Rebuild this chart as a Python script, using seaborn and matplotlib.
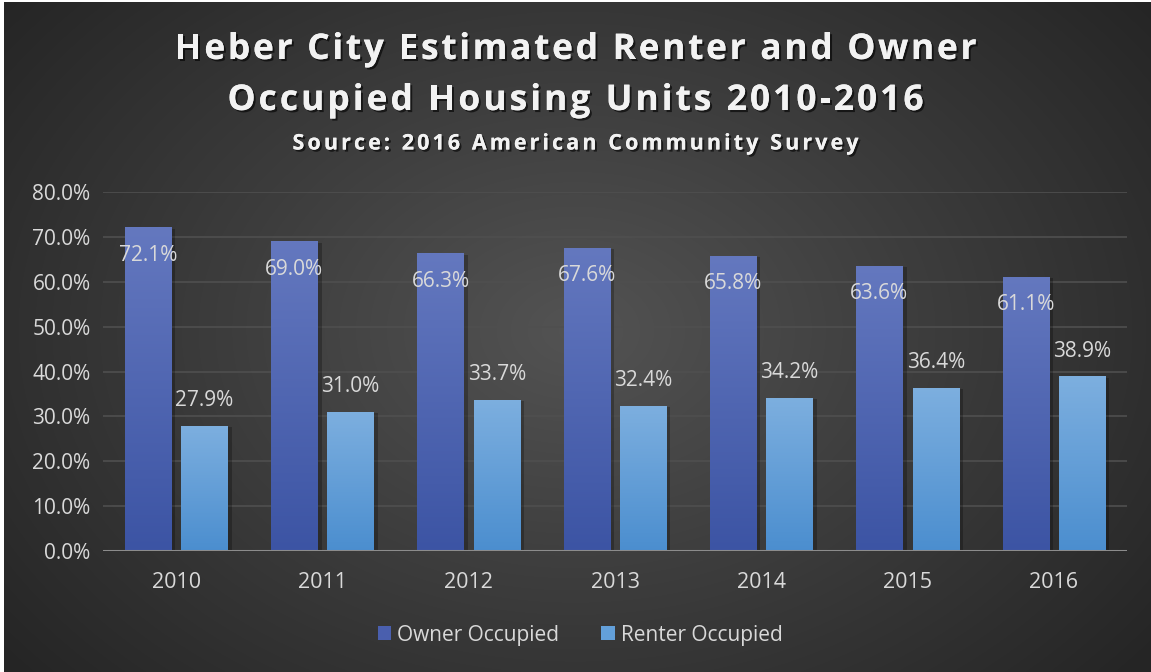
import numpy as np
import pandas as pd
import matplotlib
matplotlib.use("Agg")
import matplotlib.pyplot as plt
import matplotlib.patheffects as pe
from matplotlib.colors import LinearSegmentedColormap
from matplotlib.patches import Rectangle
import seaborn as sns

years = ["2010", "2011", "2012", "2013", "2014", "2015", "2016"]
owner = [72.1, 69.0, 66.3, 67.6, 65.8, 63.6, 61.1]
renter = [27.9, 31.0, 33.7, 32.4, 34.2, 36.4, 38.9]
series = ["Owner Occupied", "Renter Occupied"]
yticks = [0, 10, 20, 30, 40, 50, 60, 70, 80]

title_lines = ["Heber City Estimated Renter and Owner",
               "Occupied Housing Units 2010-2016"]
subtitle_text = "Source: 2016 American Community Survey"

df = pd.DataFrame({
    "year": years * 2,
    "pct": [v / 100 for v in owner + renter],
    "series": [series[0]] * len(years) + [series[1]] * len(years),
})

sns.set_theme(style="dark")
plt.rcParams["font.family"] = ["Open Sans", "DejaVu Sans"]

TXT = "#d9d9d9"
W, H = 1151, 672
base_cols = {series[0]: "#4a5fae", series[1]: "#63a0da"}
grad_cols = {
    series[0]: ("#3c54a4", "#6478bf"),   # bottom, top
    series[1]: ("#4b8ecf", "#7dafdf"),
}

fig = plt.figure(figsize=(W / 100, H / 100), dpi=100)

# radial background
bg = fig.add_axes([0, 0, 1, 1], zorder=-10)
yy, xx = np.mgrid[0:H, 0:W]
r = np.sqrt(((xx - 575) / 720.0) ** 2 + ((yy - 330) / 520.0) ** 2)
bgcmap = LinearSegmentedColormap.from_list("bg", ["#535353", "#3c3c3c", "#262626"])
bg.imshow(np.clip(r, 0, 1), cmap=bgcmap, vmin=0, vmax=1, aspect="auto",
          extent=[0, 1, 0, 1], origin="upper")
bg.set_axis_off()
fig.patches.append(Rectangle((0, 0), 4 / W, 1, transform=fig.transFigure,
                             facecolor="white", edgecolor="none", zorder=-5))
fig.patches.append(Rectangle((0, 1 - 2 / H), 1, 2 / H, transform=fig.transFigure,
                             facecolor="white", edgecolor="none", zorder=-5))

ax = fig.add_axes([103 / W, 1 - 551 / H, 1024 / W, 359 / H])
ax.patch.set_alpha(0)

sns.barplot(data=df, x="year", y="pct", hue="series", order=years,
            hue_order=series, palette=base_cols, width=0.77, gap=0.18,
            saturation=1, ax=ax, legend=True, errorbar=None)

ax.set_yticks([t / 100 for t in yticks])
ax.set_yticklabels([f"{t:.1f}%" for t in yticks])
ax.yaxis.grid(True, color="#4f4f4f", linewidth=1.2)
ax.xaxis.grid(False)
ax.set_axisbelow(True)
for s in ax.spines.values():
    s.set_visible(False)
ax.axhline(0, color="#8c8c8c", linewidth=2.2, zorder=3)
ax.set_xlabel("")
ax.set_ylabel("")
ax.tick_params(axis="y", colors=TXT, labelsize=15, length=0, pad=9)
ax.tick_params(axis="x", colors=TXT, labelsize=15.5, length=0, pad=15)

# gradient fill for bars, soft shadow and value labels
ramp = np.linspace(0, 1, 256).reshape(-1, 1)
for container, name in zip(ax.containers, series):
    lo, hi = grad_cols[name]
    cmap = LinearSegmentedColormap.from_list(name, [lo, hi])
    for bar in container:
        x0, w, h = bar.get_x(), bar.get_width(), bar.get_height()
        bar.set_facecolor("none")
        bar.set_edgecolor("none")
        bar.set_path_effects([pe.SimplePatchShadow(offset=(3, -1), shadow_rgbFace="black",
                                                   alpha=0.25)])
        im = ax.imshow(ramp, cmap=cmap, aspect="auto", origin="lower",
                       extent=[x0, x0 + w, 0, h], zorder=2,
                       interpolation="bilinear")
        im.set_clip_path(bar)
        cx = x0 + w / 2
        dy = -28 if name == series[0] else 25
        ax.annotate(f"{h * 100:.1f}%", (cx, h), xytext=(0, dy),
                    textcoords="offset pixels", ha="center", va="center",
                    color=TXT, fontsize=15, zorder=5)
ax.set_xlim(-0.5, len(years) - 0.5)
ax.set_ylim(0, 0.8)

leg = ax.legend(loc="center", ncol=2, frameon=False, fontsize=15,
                handlelength=0.65, handleheight=0.65, handletextpad=0.3,
                columnspacing=2.0, labelcolor=TXT)
leg.set_bbox_to_anchor((0.504, 1 - 635 / H), transform=fig.transFigure)
for hnd in leg.legend_handles:
    hnd.set_edgecolor("none")

# letter-spaced headline text
shadow = [pe.withSimplePatchShadow(offset=(1.5, -1.5), shadow_rgbFace="black", alpha=0.6),
          pe.Normal()]
renderer = fig.canvas.get_renderer()


def text_width(s, **kw):
    t = fig.text(0, 0, s, **kw)
    w = t.get_window_extent(renderer).width
    t.remove()
    return w


def spaced_text(s, y_px, width_px, **kw):
    widths = []
    for ch in s:
        if ch == " ":
            widths.append(text_width("x x", **kw) - text_width("xx", **kw))
        else:
            widths.append(text_width(ch, **kw))
    track = (width_px - sum(widths)) / (len(s) - 1)
    x = W / 2 - width_px / 2
    for ch, cw in zip(s, widths):
        if ch != " ":
            fig.text(x / W, 1 - y_px / H, ch, ha="left", va="center",
                     path_effects=shadow, **kw)
        x += cw + track


head_kw = dict(color="#f2f2f2", fontweight="bold", fontsize=25.5)
spaced_text(title_lines[0], 50, 802, **head_kw)
spaced_text(title_lines[1], 101, 696, **head_kw)
spaced_text(subtitle_text, 144, 566, color="#f2f2f2", fontweight="bold", fontsize=15.5)

fig.savefig("out.png", dpi=100)
